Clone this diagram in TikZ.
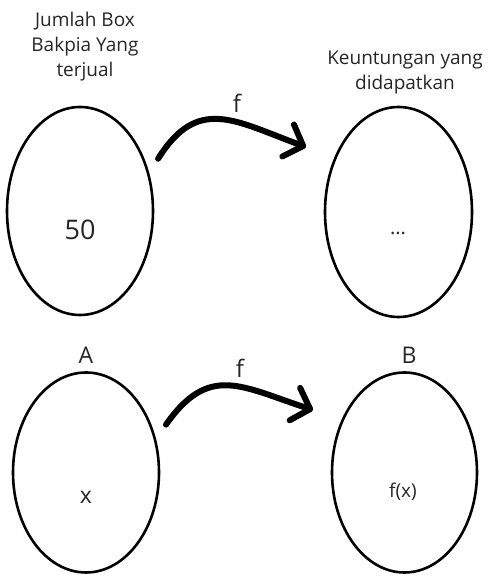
\documentclass[tikz,border=0pt]{standalone}
\usepackage{fontspec}
\setmainfont{Open Sans}
\usetikzlibrary{shapes.geometric,arrows.meta}
\tikzset{
  himpunan/.style={draw, ellipse, line width=2.6pt, inner sep=0pt},
  teks/.style={text=black!85, inner sep=0pt, font=\fontsize{19}{25}\selectfont, align=center},
  panah/.style={line width=6pt, line cap=round,
    -{Straight Barb[length=16pt, width=34pt, line cap=round, line join=round]}}
}
\begin{document}
\begin{tikzpicture}[x=1pt,y=1pt]
    \useasboundingbox (0,0) rectangle (488,576);
    % Diagram atas
    \node[himpunan, minimum width=146pt, minimum height=208pt] (jumlah) at (80,365) {};
    \node[himpunan, minimum width=147pt, minimum height=210pt] (untung) at (398.5,364) {};
    \node[teks] (judulA) at (85,529) {Jumlah Box\\Bakpia Yang\\terjual};
    \node[teks] (judulB) at (405,503) {Keuntungan yang\\didapatkan};
    \node[teks, font=\fontsize{27}{30}\selectfont] (lima) at (80,346) {50};
    \node[teks, font=\fontsize{20}{22}\selectfont] (titik) at (398,343) {...};
    \node[teks, font=\fontsize{24}{26}\selectfont] (fAtas) at (237,473) {f};
    \coordinate (ujungAtas) at (306,429);
    \draw[panah] ([shift={(11pt,7pt)}]jumlah.34) to[out=58,in=160,looseness=1.3] (ujungAtas);
    % Diagram bawah
    \node[himpunan, minimum width=146pt, minimum height=200pt] (domA) at (86,103.5) {};
    \node[himpunan, minimum width=145pt, minimum height=200pt] (kodB) at (404.5,103.5) {};
    \node[teks, font=\fontsize{23}{26}\selectfont] (hurufA) at (86,221) {A};
    \node[teks, font=\fontsize{23}{26}\selectfont] (hurufB) at (409,221) {B};
    \node[teks, font=\fontsize{24}{26}\selectfont] (fBawah) at (240,208) {f};
    \node[teks, font=\fontsize{23}{26}\selectfont] (varx) at (86,79) {x};
    \node[teks, font=\fontsize{19}{22}\selectfont] (nilaifx) at (403,84) {f(x)};
    \coordinate (ujungBawah) at (313,166);
    \draw[panah] ([shift={(12pt,7pt)}]domA.31) to[out=55,in=162,looseness=1.3] (ujungBawah);
\end{tikzpicture}
\end{document}
